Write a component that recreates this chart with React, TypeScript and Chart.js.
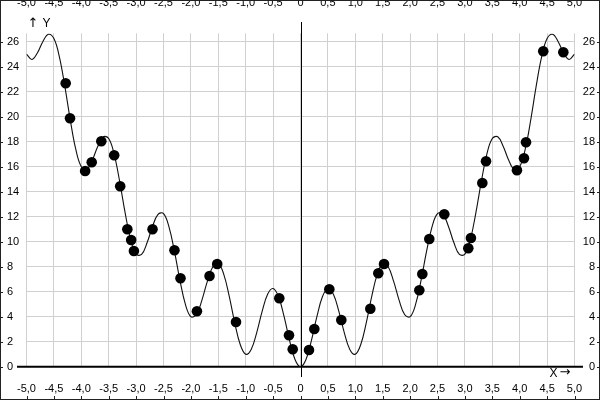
import { useEffect, useRef } from 'react';
import { Chart, registerables } from 'chart.js';

Chart.register(...registerables);

// Curve samples (x, y)
const CURVE_X = [
  -5, -4.9, -4.8, -4.7, -4.6, -4.5, -4.4, -4.3, -4.2, -4.1,
  -4, -3.9, -3.8, -3.7, -3.6, -3.5, -3.4, -3.3, -3.2, -3.1,
  -3, -2.9, -2.8, -2.7, -2.6, -2.5, -2.4, -2.3, -2.2, -2.1,
  -2, -1.9, -1.8, -1.7, -1.6, -1.5, -1.4, -1.3, -1.2, -1.1,
  -1, -0.9, -0.8, -0.7, -0.6, -0.5, -0.4, -0.3, -0.2, -0.1,
  0,
  0.1, 0.2, 0.3, 0.4, 0.5, 0.6, 0.7, 0.8, 0.9, 1,
  1.1, 1.2, 1.3, 1.4, 1.5, 1.6, 1.7, 1.8, 1.9, 2,
  2.1, 2.2, 2.3, 2.4, 2.5, 2.6, 2.7, 2.8, 2.9, 3,
  3.1, 3.2, 3.3, 3.4, 3.5, 3.6, 3.7, 3.8, 3.9, 4,
  4.1, 4.2, 4.3, 4.4, 4.5, 4.6, 4.7, 4.8, 4.9, 5,
];
const CURVE_Y = [
  25.0, 24.58, 25.11, 26.02, 26.59, 26.25, 24.79, 22.42, 19.71, 17.38,
  16.0, 15.78, 16.51, 17.62, 18.39, 18.25, 16.99, 14.82, 12.31, 10.18,
  9.0, 8.98, 9.91, 11.22, 12.19, 12.25, 11.19, 9.22, 6.91, 4.98,
  4.0, 4.18, 5.31, 6.82, 7.99, 8.25, 7.39, 5.62, 3.51, 1.78,
  1.0, 1.38, 2.71, 4.42, 5.79, 6.25, 5.59, 4.02, 2.11, 0.58,
  0,
  0.58, 2.11, 4.02, 5.59, 6.25, 5.79, 4.42, 2.71, 1.38, 1.0,
  1.78, 3.51, 5.62, 7.39, 8.25, 7.99, 6.82, 5.31, 4.18, 4.0,
  4.98, 6.91, 9.22, 11.19, 12.25, 12.19, 11.22, 9.91, 8.98, 9.0,
  10.18, 12.31, 14.82, 16.99, 18.25, 18.39, 17.62, 16.51, 15.78, 16.0,
  17.38, 19.71, 22.42, 24.79, 26.25, 26.59, 26.02, 25.11, 24.58, 25.0,
];

// Sample points
const POINT_X = [
  -4.285, -4.206, -3.93, -3.81, -3.635, -3.4, -3.29, -3.16, -3.09, -3.04,
  -2.7, -2.3, -2.19, -1.89, -1.66, -1.52, -1.177, -0.387, -0.21, -0.142,
  0.155, 0.252, 0.526, 0.745, 1.274, 1.42, 1.524, 2.168, 2.223, 2.35,
  2.624, 3.062, 3.11, 3.318, 3.385, 3.95, 4.078, 4.115, 4.43, 4.796,
];
const POINT_Y = [
  22.67, 19.87, 15.66, 16.35, 18.03, 16.91, 14.43, 10.99, 10.14, 9.26,
  10.99, 9.31, 7.07, 4.43, 7.26, 8.22, 3.58, 5.47, 2.51, 1.39,
  1.34, 3.02, 6.19, 3.74, 4.64, 7.47, 8.22, 6.11, 7.42, 10.22,
  12.19, 9.47, 10.3, 14.7, 16.43, 15.71, 16.67, 17.95, 25.23, 25.15,
];

const X_MIN = -5;
const X_MAX = 5;
const X_STEP = 0.5;
const Y_MIN = 0;
const Y_MAX = 26.67;
const Y_STEP = 2;
const X_TITLE = 'X';
const Y_TITLE = 'Y';
const X_ARROW = '→';
const Y_ARROW = '↑';

const FONT = { family: "'Liberation Sans', Arial, sans-serif", size: 11 };
const ARROW_FONT = "13px 'DejaVu Sans', sans-serif";

const fmtX = (v: any) => {
  const n = Number(v);
  if (Math.abs(n) < 1e-9) return '0';
  return n.toFixed(1).replace('.', ',');
};

const decorPlugin = {
  id: 'decor',
  beforeDatasetsDraw(chart: any) {
    const ctx = chart.ctx;
    const xs = chart.scales.x;
    const ys = chart.scales.y;
    const x0 = xs.getPixelForValue(0);
    const y0 = ys.getPixelForValue(0);
    ctx.save();
    ctx.strokeStyle = '#000';
    ctx.lineWidth = 2;
    ctx.beginPath();
    ctx.moveTo(17, y0);
    ctx.lineTo(583, y0);
    ctx.stroke();
    ctx.lineWidth = 1;
    ctx.beginPath();
    ctx.moveTo(Math.round(x0) + 0.5, 22);
    ctx.lineTo(Math.round(x0) + 0.5, 377);
    ctx.stroke();
    ctx.restore();
  },
  afterDraw(chart: any) {
    const ctx = chart.ctx;
    const W = chart.width;
    const H = chart.height;
    const xs = chart.scales.x;
    const ys = chart.scales.y;
    ctx.save();
    ctx.strokeStyle = '#222';
    ctx.lineWidth = 1;
    ctx.strokeRect(0.5, 0.5, W - 1, H - 1);
    ctx.beginPath();
    ys.ticks.forEach((t: any) => {
      const p = Math.round(ys.getPixelForValue(t.value)) + 0.5;
      ctx.moveTo(0, p);
      ctx.lineTo(3, p);
      ctx.moveTo(W - 3, p);
      ctx.lineTo(W, p);
    });
    xs.ticks.forEach((t: any) => {
      const p = Math.round(xs.getPixelForValue(t.value)) + 0.5;
      ctx.moveTo(p, H - 4);
      ctx.lineTo(p, H);
    });
    ctx.stroke();
    ctx.fillStyle = '#000';
    ctx.textBaseline = 'middle';
    ctx.textAlign = 'center';
    // Y title: arrow then letter
    ctx.font = ARROW_FONT;
    ctx.fillText(Y_ARROW, 33, 24);
    ctx.font = `${FONT.size + 1}px ${FONT.family}`;
    ctx.fillText(Y_TITLE, 46.5, 24);
    // X title: letter then arrow
    ctx.fillText(X_TITLE, 553.5, 374);
    ctx.font = ARROW_FONT;
    ctx.fillText(X_ARROW, 565, 373);
    ctx.restore();
  },
};

export default function App() {
  const ref = useRef<HTMLCanvasElement>(null);
  useEffect(() => {
    const canvas = ref.current;
    if (!canvas) return;
    const chart = new Chart(canvas, {
      type: 'scatter',
      data: {
        datasets: [
          {
            type: 'scatter',
            data: POINT_X.map((x, i) => ({ x, y: POINT_Y[i] })),
            pointRadius: 5.3,
            pointHoverRadius: 5.3,
            backgroundColor: '#000',
            borderColor: '#000',
            borderWidth: 0,
            order: 0,
          } as any,
          {
            type: 'line',
            data: CURVE_X.map((x, i) => ({ x, y: CURVE_Y[i] })),
            borderColor: '#111',
            borderWidth: 1.1,
            pointRadius: 0,
            tension: 0.4,
            fill: false,
            order: 1,
          } as any,
        ],
      },
      options: {
        animation: false,
        responsive: false,
        events: [],
        layout: { padding: { left: 7, right: 5, top: 0, bottom: 0 } },
        plugins: { legend: { display: false }, tooltip: { enabled: false } },
        scales: {
          x: {
            type: 'linear',
            position: 'bottom',
            min: X_MIN,
            max: X_MAX,
            ticks: { stepSize: X_STEP, callback: fmtX, font: FONT, color: '#000', padding: 16, autoSkip: false, maxRotation: 0, includeBounds: false },
            grid: { color: '#d0d0d0', drawTicks: false },
            border: { display: false },
            afterFit: (s: any) => { s.height = 33.3; },
          },
          x2: {
            type: 'linear',
            position: 'top',
            min: X_MIN,
            max: X_MAX,
            ticks: { stepSize: X_STEP, callback: fmtX, font: FONT, color: '#000', padding: 16, autoSkip: false, maxRotation: 0, includeBounds: false },
            grid: { display: false },
            border: { display: false },
            afterFit: (s: any) => { s.height = 33.3; },
          },
          y: {
            type: 'linear',
            position: 'left',
            min: Y_MIN,
            max: Y_MAX,
            ticks: { stepSize: Y_STEP, font: FONT, color: '#000', crossAlign: 'far', includeBounds: false, autoSkip: false },
            grid: { color: '#d0d0d0', drawTicks: false },
            border: { display: false },
            afterFit: (s: any) => { s.width = 19.5; },
          },
          y2: {
            type: 'linear',
            position: 'right',
            min: Y_MIN,
            max: Y_MAX,
            ticks: { stepSize: Y_STEP, font: FONT, color: '#000', crossAlign: 'far', includeBounds: false, autoSkip: false },
            grid: { display: false },
            border: { display: false },
            afterFit: (s: any) => { s.width = 20.5; },
          },
        },
      } as any,
      plugins: [decorPlugin],
    });
    return () => chart.destroy();
  }, []);
  return (
    <canvas
      ref={ref}
      width={600}
      height={400}
      style={{ position: 'absolute', left: 0, top: 0, width: 600, height: 400, display: 'block' }}
    />
  );
}
